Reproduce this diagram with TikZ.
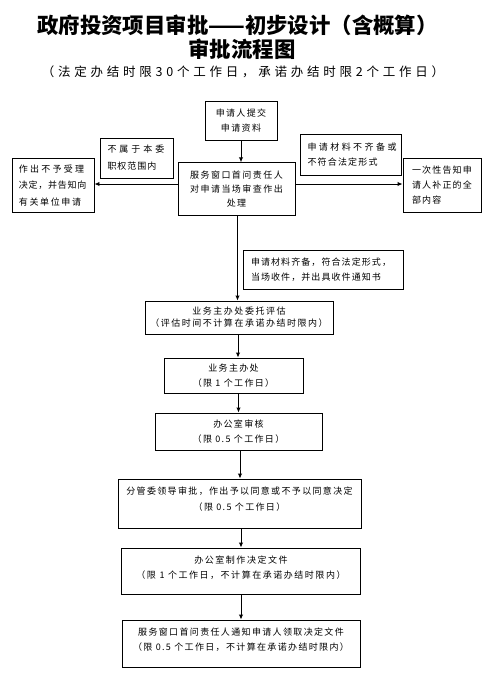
\documentclass[tikz,border=0pt]{standalone}
\usepackage{fontspec}
\setmainfont{Noto Sans CJK SC}
\usetikzlibrary{arrows.meta}
\newcommand{\lsp}[2]{{\addfontfeature{LetterSpace=#1}#2}}
\tikzset{
  box/.style={draw=black, line width=0.95pt, inner sep=0pt, align=center, font=\fontsize{9}{15}\selectfont\addfontfeature{LetterSpace=15}},
  txt/.style={inner sep=0pt, align=center, font=\fontsize{9}{15}\selectfont\addfontfeature{LetterSpace=15}},
  arr/.style={line width=0.95pt, -{Latex[length=5pt,width=4.5pt]}},
}
\begin{document}
\begin{tikzpicture}[x=1pt,y=-1pt]
\useasboundingbox (0,0) rectangle (499,673);
% titles
\node[inner sep=0pt, font=\fontsize{21.4}{21}\selectfont\bfseries] (t1) at (237.5,25) {政府投资项目审批——初步设计（含概算）};
\node[inner sep=0pt, font=\fontsize{21.4}{21}\selectfont\bfseries] (t2) at (242,49) {审批流程图};
\node[inner sep=0pt, font=\fontsize{12.5}{12}\selectfont\addfontfeature{LetterSpace=30}] (t3) at (243,72) {（法定办结时限30个工作日，承诺办结时限2个工作日）};
% boxes
\node[box, minimum width=72pt, minimum height=39pt] (b1) at (241,120.5) {申请人提交\\申请资料};
\node[box, minimum width=117pt, minimum height=52.5pt, font=\fontsize{9}{14}\selectfont\addfontfeature{LetterSpace=16}] (b2) at (236.5,189) {服务窗口首问责任人\\对申请当场审查作出\\处理};
\node[box, minimum width=73pt, minimum height=40pt, text width=58pt, align=left, font=\fontsize{9}{17}\selectfont] (b3) at (136.5,158) {\lsp{33}{不属于本委}\\\lsp{11}{职权范围内}};
\node[box, minimum width=82pt, minimum height=54pt, text width=68pt, align=left, font=\fontsize{9}{16.5}\selectfont] (b4) at (53,185.5) {\lsp{25}{作出不予受理}\\\lsp{8}{决定，并告知向}\\\lsp{18}{有关单位申请}};
\node[box, minimum width=101pt, minimum height=41pt, text width=86pt, align=left, font=\fontsize{9}{15}\selectfont] (b5) at (350.5,154.5) {\lsp{27}{申请材料不齐备或}\\\lsp{13}{不符合法定形式}};
\node[box, minimum width=78pt, minimum height=54pt, text width=60pt, align=left, font=\fontsize{9}{15}\selectfont\addfontfeature{LetterSpace=13}] (b6) at (442,185) {一次性告知申\\请人补正的全\\部内容};
\node[box, minimum width=160pt, minimum height=39pt, text width=144pt, align=left, font=\fontsize{9}{15}\selectfont\addfontfeature{LetterSpace=12}] (b7) at (323,269.5) {申请材料齐备，符合法定形式，\\当场收件，并出具收件通知书};
\node[box, minimum width=188pt, minimum height=33pt, font=\fontsize{9}{12}\selectfont\addfontfeature{LetterSpace=17}] (b8) at (239,317.5) {业务主办处委托评估\\（评估时间不计算在承诺办结时限内）};
\node[box, minimum width=139pt, minimum height=35pt] (b9) at (233.5,375.5) {业务主办处\\（限 1 个工作日）};
\node[box, minimum width=167pt, minimum height=37pt] (b10) at (238.5,431.5) {办公室审核\\（限 0.5 个工作日）};
\node[box, minimum width=243pt, minimum height=49pt] (b11) at (239.5,503.5) {};
\node[txt, font=\fontsize{9}{16}\selectfont\addfontfeature{LetterSpace=15}] (x11) at ([yshift=4.5pt]b11.center) {分管委领导审批，作出予以同意或不予以同意决定\\（限 0.5 个工作日）};
\node[box, minimum width=239pt, minimum height=46pt] (b12) at (241,571) {};
\node[txt, font=\fontsize{9}{15}\selectfont\addfontfeature{LetterSpace=17}] (x12) at ([yshift=3.5pt]b12.center) {办公室制作决定文件\\（限 1 个工作日，不计算在承诺办结时限内）};
\node[box, minimum width=238pt, minimum height=47pt] (b13) at (241,643.5) {};
\node[txt] (x13) at ([yshift=4pt]b13.center) {服务窗口首问责任人通知申请人领取决定文件\\（限 0.5 个工作日，不计算在承诺办结时限内）};
% connectors
\draw[arr] (b1.south) -- (b1.south |- b2.north);
\draw[arr] ([yshift=5pt]b2.west) -- ([yshift=5pt]b2.west -| b4.east);
\draw[arr] ([yshift=5pt]b2.east) -- ([yshift=5pt]b2.east -| b6.west);
\draw[arr] ([xshift=1pt]b2.south) -- ([xshift=1pt]b2.south |- b8.north);
\draw[arr] ([xshift=-1pt]b8.south) -- ([xshift=-1pt]b8.south |- b9.north);
\draw[arr] (b10.north |- b9.south) -- (b10.north);
\draw[arr] ([xshift=1.5pt]b10.south) -- ([xshift=1.5pt]b10.south |- b11.north);
\draw[arr] (b12.north |- b11.south) -- (b12.north);
\draw[arr] (b12.south) -- (b13.north);
\end{tikzpicture}
\end{document}
